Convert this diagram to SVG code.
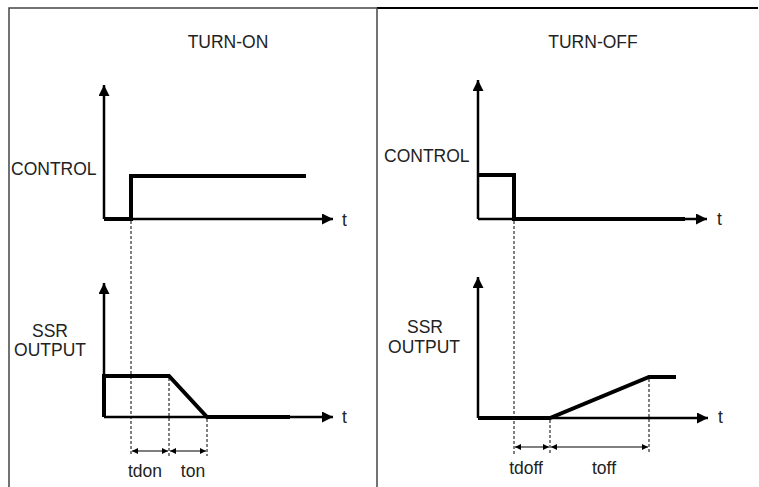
<svg xmlns="http://www.w3.org/2000/svg" width="759" height="487" viewBox="0 0 759 487">
<defs>
<marker id="ah" viewBox="0 0 10 10" refX="10" refY="5" markerWidth="12" markerHeight="11" markerUnits="userSpaceOnUse" orient="auto"><path d="M0,0 L10,5 L0,10 z" fill="#000"/></marker>
<marker id="sa" viewBox="0 0 10 10" refX="10" refY="5" markerWidth="7" markerHeight="6" markerUnits="userSpaceOnUse" orient="auto-start-reverse"><path d="M0,0 L10,5 L0,10 z" fill="#000"/></marker>
</defs>
<style>
text{font-family:"Liberation Sans",Arial,sans-serif;font-size:17.5px;fill:#222}
.ax{stroke:#000;stroke-width:2.5;fill:none}
.tr{stroke:#000;stroke-width:4;fill:none;stroke-linejoin:miter}
.ds{stroke:#000;stroke-width:1;stroke-dasharray:3,2;fill:none}
.dim{stroke:#000;stroke-width:1.2;fill:none}
.fr{stroke:#444;stroke-width:1.5;fill:none}
</style>
<rect width="759" height="487" fill="#fff"/>
<g id="frame">
<path class="fr" d="M9,487 V8 H377"/>
<path d="M377,8 H758" stroke="#000" stroke-width="2"/>
<path class="fr" d="M377,8 V487"/>
</g>
<g id="turn-on">
<text x="228" y="48" text-anchor="middle">TURN-ON</text>
<text x="11" y="175">CONTROL</text>
<text x="50" y="337" text-anchor="middle">SSR</text>
<text x="50" y="356" text-anchor="middle">OUTPUT</text>
<text x="342" y="226">t</text>
<text x="342" y="423">t</text>
<text x="145" y="477" text-anchor="middle">tdon</text>
<text x="193" y="477" text-anchor="middle">ton</text>
</g>
<g id="turn-off">
<text x="593" y="48" text-anchor="middle">TURN-OFF</text>
<text x="384" y="162">CONTROL</text>
<text x="425" y="333" text-anchor="middle">SSR</text>
<text x="424" y="353" text-anchor="middle">OUTPUT</text>
<text x="717" y="225">t</text>
<text x="718" y="423">t</text>
<text x="526" y="474" text-anchor="middle">tdoff</text>
<text x="604" y="474" text-anchor="middle">toff</text>
</g>
<g id="connectors">
<path class="ax" d="M104,219 V85" marker-end="url(#ah)"/>
<path class="ax" d="M104,219 H333" marker-end="url(#ah)"/>
<path class="tr" d="M104,219 H131 V176 H306"/>
<path class="ax" d="M104,417 V283" marker-end="url(#ah)"/>
<path class="ax" d="M104,417 H333" marker-end="url(#ah)"/>
<path class="tr" d="M104,417 V376 H169 L207,417 H290"/>
<path class="ds" d="M131,221 V456"/>
<path class="ds" d="M169,378 V456"/>
<path class="ds" d="M207,419 V456"/>
<path class="dim" d="M132,451 H168" marker-start="url(#sa)" marker-end="url(#sa)"/>
<path class="dim" d="M170,451 H206" marker-start="url(#sa)" marker-end="url(#sa)"/>
<path class="ax" d="M478,219 V80" marker-end="url(#ah)"/>
<path class="ax" d="M478,219 H707" marker-end="url(#ah)"/>
<path class="tr" d="M478,175 H514 V219 H685"/>
<path class="ax" d="M478,418 V277" marker-end="url(#ah)"/>
<path class="ax" d="M478,418 H708" marker-end="url(#ah)"/>
<path class="tr" d="M478,418 H550 L649,377 H676"/>
<path class="ds" d="M514,221 V454"/>
<path class="ds" d="M550,420 V454"/>
<path class="ds" d="M649,379 V454"/>
<path class="dim" d="M515,447 H549" marker-start="url(#sa)" marker-end="url(#sa)"/>
<path class="dim" d="M551,447 H648" marker-start="url(#sa)" marker-end="url(#sa)"/>
</g>
</svg>
